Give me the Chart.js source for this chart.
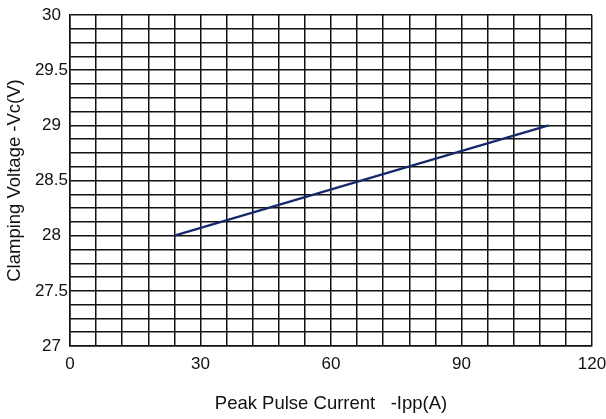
<!DOCTYPE html>
<html>
<head>
<meta charset="utf-8">
<script src="https://cdn.jsdelivr.net/npm/chart.js@4"></script>
<style>
html,body{margin:0;padding:0;background:#fff;}
#wrap{width:606px;height:419px;position:relative;}
</style>
</head>
<body>
<div id="wrap"><canvas id="c" width="606" height="419"></canvas></div>
<script>
const peakCurrent = [24, 110];
const clampVoltage = [28, 29];
const xLabelValues = [0, 30, 60, 90, 120];
const yLabelValues = [27, 27.5, 28, 28.5, 29, 29.5, 30];
const xTitle = 'Peak Pulse Current   -Ipp(A)';
const yTitle = 'Clamping Voltage -Vc(V)';

const FONT = "'Liberation Sans', Arial, sans-serif";
const points = peakCurrent.map((x, i) => ({x: x, y: clampVoltage[i]}));

new Chart(document.getElementById('c'), {
  type: 'scatter',
  data: {
    datasets: [{
      data: points,
      showLine: true,
      borderColor: '#14286a',
      borderWidth: 2.2,
      pointRadius: 0,
      fill: false
    }]
  },
  options: {
    responsive: false,
    animation: false,
    devicePixelRatio: 1,
    layout: {padding: {top: 15, right: 0, left: 0, bottom: 0}},
    plugins: {legend: {display: false}, tooltip: {enabled: false}},
    scales: {
      x: {
        type: 'linear',
        min: 0, max: 120,
        afterFit: s => { s.height = 73; s.paddingRight = 14; },
        grid: {color: '#111', lineWidth: 1.5, drawTicks: false},
        border: {color: '#111', width: 1.5},
        ticks: {
          stepSize: 6, autoSkip: false, maxRotation: 0, padding: 8,
          color: '#111',
          font: {family: FONT, size: 17},
          callback: v => xLabelValues.includes(v) ? String(v) : ''
        },
        title: {display: true, text: xTitle, color: '#111', font: {family: FONT, size: 18.5}}
      },
      y: {
        type: 'linear',
        min: 27, max: 30,
        afterFit: s => { s.width = 70; },
        grid: {color: '#111', lineWidth: 1.5, drawTicks: false},
        border: {color: '#111', width: 1.5},
        ticks: {
          stepSize: 0.125, autoSkip: false, padding: 2, crossAlign: 'center',
          color: '#111',
          font: {family: FONT, size: 17},
          callback: v => yLabelValues.includes(v) ? String(v) : ''
        },
        title: {display: true, text: yTitle, color: '#111', font: {family: FONT, size: 18.5}}
      }
    }
  }
});
</script>
</body>
</html>
